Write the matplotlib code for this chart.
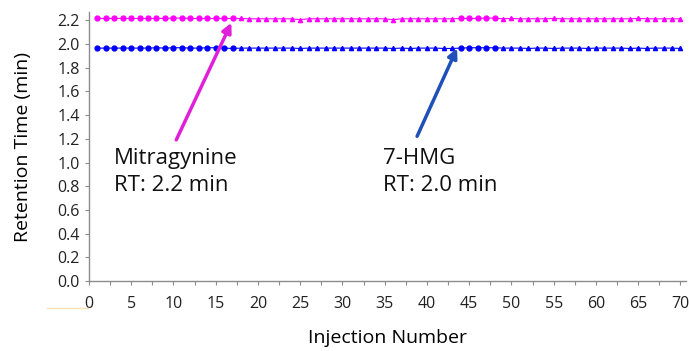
import numpy as np
import matplotlib.pyplot as plt

plt.rcParams['font.family'] = ['Open Sans', 'DejaVu Sans']

# injection numbers and retention times (min)
inj = np.arange(1, 71)
mitragynine_rt = [2.215, 2.215, 2.215, 2.215, 2.215, 2.215, 2.215, 2.215, 2.215, 2.218,
                  2.218, 2.215, 2.215, 2.215, 2.215, 2.215, 2.215, 2.215, 2.212, 2.212,
                  2.212, 2.212, 2.212, 2.212, 2.205, 2.212, 2.212, 2.212, 2.212, 2.212,
                  2.212, 2.212, 2.212, 2.212, 2.212, 2.205, 2.212, 2.212, 2.212, 2.212,
                  2.212, 2.212, 2.212, 2.215, 2.215, 2.215, 2.218, 2.218, 2.212, 2.215,
                  2.212, 2.212, 2.212, 2.212, 2.215, 2.212, 2.212, 2.212, 2.212, 2.212,
                  2.212, 2.212, 2.212, 2.212, 2.215, 2.212, 2.212, 2.212, 2.212, 2.212]
hmg_rt = [1.965, 1.965, 1.965, 1.965, 1.965, 1.965, 1.965, 1.968, 1.965, 1.968,
          1.968, 1.965, 1.965, 1.968, 1.968, 1.965, 1.962, 1.965, 1.965, 1.965,
          1.965, 1.965, 1.965, 1.965, 1.962, 1.965, 1.965, 1.965, 1.965, 1.965,
          1.965, 1.965, 1.965, 1.965, 1.965, 1.962, 1.965, 1.962, 1.965, 1.965,
          1.965, 1.962, 1.962, 1.965, 1.968, 1.968, 1.968, 1.968, 1.965, 1.965,
          1.965, 1.962, 1.965, 1.965, 1.962, 1.965, 1.965, 1.965, 1.962, 1.965,
          1.965, 1.965, 1.965, 1.962, 1.965, 1.962, 1.965, 1.965, 1.965, 1.962]
# runs plotted with dots vs. triangles
runs = [(1, 17, 'o'), (18, 43, '^'), (44, 48, 'o'), (49, 70, '^')]
x_ticks = np.arange(0, 71, 5)
y_ticks = np.round(np.arange(0, 2.21, 0.2), 1)

pink = '#FF00FF'
blue = '#0000FF'
grey = '#8C8C8C'

fig = plt.figure(figsize=(6.89, 3.51), dpi=100)
ax = fig.add_axes([0.129, 0.199, 0.866, 0.767])

mit = np.array(mitragynine_rt)
hmg = np.array(hmg_rt)
ax.plot(inj, mit, color=pink, lw=0.8, zorder=2)
ax.plot(inj, hmg, color=blue, lw=0.8, zorder=2)
for start, end, m in runs:
    sel = (inj >= start) & (inj <= end)
    ms = 3.5 if m == 'o' else 3
    ax.plot(inj[sel], mit[sel], ls='none', marker=m, ms=ms, color=pink, zorder=3)
    ax.plot(inj[sel], hmg[sel], ls='none', marker=m, ms=ms, color=blue, zorder=3)

ax.set_xlim(0, 70.6)
ax.set_ylim(0, 2.27)
ax.set_xticks(x_ticks)
ax.set_xticks(np.arange(0, 71, 2.5), minor=True)
ax.set_yticks(y_ticks)
ax.set_yticklabels([f'{v:.1f}' for v in y_ticks])
ax.tick_params(axis='both', which='both', direction='out', length=3, width=0.8,
               color=grey, labelsize=11.5, labelcolor='#222222')
ax.tick_params(axis='x', pad=8)
for side in ['top', 'right']:
    ax.spines[side].set_visible(False)
for side in ['left', 'bottom']:
    ax.spines[side].set_color(grey)
    ax.spines[side].set_linewidth(1)

ax.set_xlabel('Injection Number', fontsize=14, labelpad=12)
ax.set_ylabel('Retention Time (min)', fontsize=14, labelpad=18)

ax.annotate('', xy=(17.0, 2.2), xytext=(10.2, 1.17),
            arrowprops=dict(arrowstyle='-|>', color='#E020D8', lw=2.5,
                            mutation_scale=14))
ax.annotate('', xy=(43.7, 1.985), xytext=(38.7, 1.2),
            arrowprops=dict(arrowstyle='-|>', color='#1F4FB8', lw=2.5,
                            mutation_scale=14))
ax.text(3.0, 1.125, 'Mitragynine\nRT: 2.2 min', fontsize=16, va='top',
        linespacing=1.4, color='#111111')
ax.text(34.8, 1.125, '7-HMG\nRT: 2.0 min', fontsize=16, va='top',
        linespacing=1.4, color='#111111')

fig.add_artist(plt.Line2D([47 / 689, 88 / 689], [1 - 308 / 351, 1 - 308 / 351],
                          color='#FFE2B0', lw=1))

fig.savefig('out.png', dpi=100)
